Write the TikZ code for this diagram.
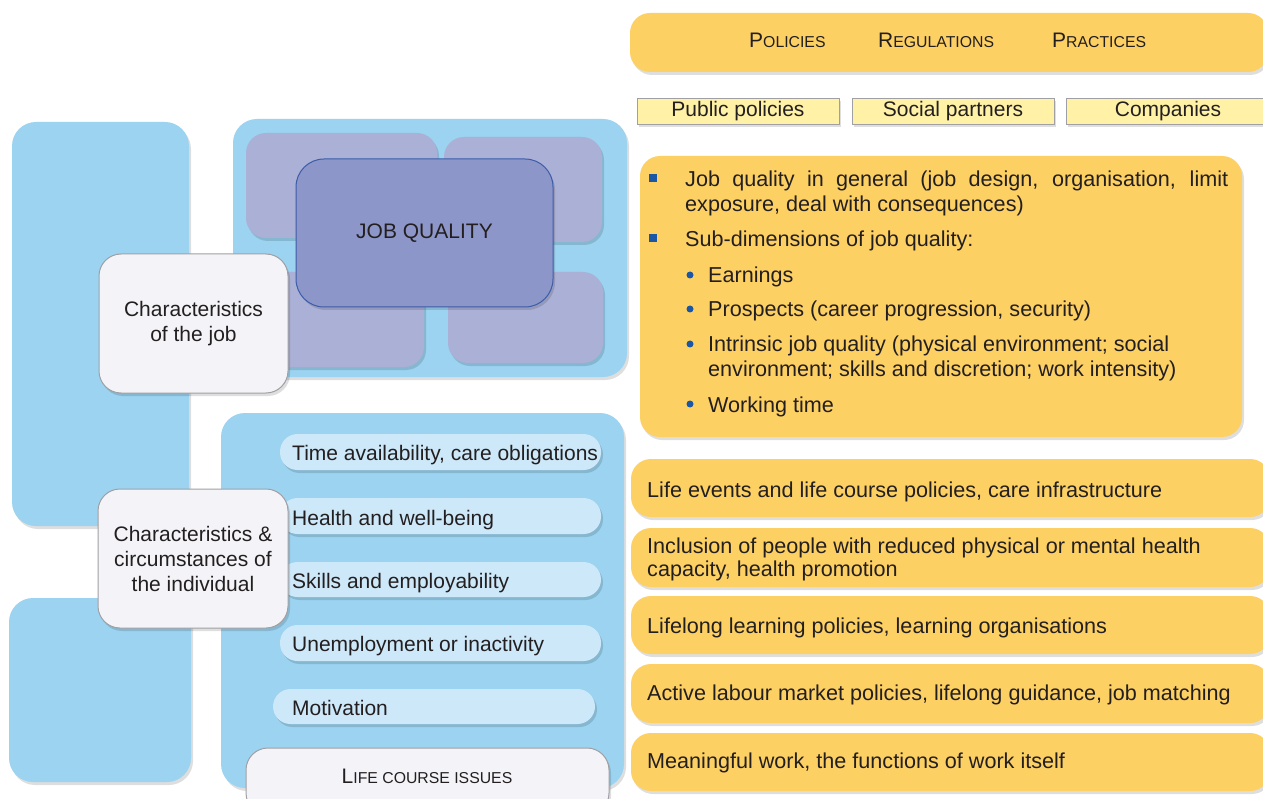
\documentclass[tikz,border=0pt]{standalone}
\usepackage{fontspec}
\setmainfont{Liberation Sans}
\usetikzlibrary{shadows}
\definecolor{panelblue}{HTML}{9BD3F0}
\definecolor{lav}{HTML}{AAB0D6}
\definecolor{jqfill}{HTML}{8D96C8}
\definecolor{jqline}{HTML}{3C5DA9}
\definecolor{whitebox}{HTML}{F4F4F8}
\definecolor{greyline}{HTML}{A0A0A4}
\definecolor{pillblue}{HTML}{CDE8F8}
\definecolor{orangebox}{HTML}{FDD063}
\definecolor{yellowbox}{HTML}{FFF2A6}
\definecolor{bulletblue}{HTML}{1C57A5}
\definecolor{txt}{HTML}{231F20}
\newcommand\fsc[2]{#1{\fontsize{15.8}{16}\selectfont #2}}
% style, x1, y1, x2, y2, name, text
\newcommand\rbox[7]{\node[#1, minimum width={#4-#2}, minimum height={#5-#3}] (#6) at ({(#2+#4)/2},{(#3+#5)/2}) {#7};}
\tikzset{
  sh/.style={drop shadow={shadow xshift=2pt, shadow yshift=-3pt, opacity=0.13, fill=black}},
  panel/.style={fill=panelblue, rounded corners=24pt, sh},
  lavbox/.style={fill=lav, rounded corners=20pt, sh},
  jqbox/.style={fill=jqfill, draw=jqline, line width=1pt, rounded corners=28pt, sh},
  whitebx/.style={fill=whitebox, draw=greyline, line width=1pt, rounded corners=22pt, sh, align=center},
  pill/.style={fill=pillblue, rounded corners=17.5pt, sh},
  orangebx/.style={fill=orangebox, rounded corners=20pt, sh},
  yellowbx/.style={fill=yellowbox, draw=greyline, line width=0.8pt, sh},
  lbl/.style={anchor=base west, inner sep=0pt},
  clbl/.style={anchor=base, inner sep=0pt},
  rfont/.style={font=\fontsize{21.6}{25}\selectfont},
  sqbullet/.style={fill=bulletblue, minimum size=8.5pt, inner sep=0pt},
  dotbullet/.style={circle, fill=bulletblue, minimum size=7pt, inner sep=0pt},
}
\begin{document}
\begin{tikzpicture}[x=1pt, y=-1pt, font=\fontsize{21}{25}\selectfont, text=txt, inner sep=0pt]
\useasboundingbox[fill=white] (0,0) rectangle (1263,799);
% left panels
\rbox{panel}{12}{122}{189}{526}{pa}{}
\rbox{panel}{9}{598}{191}{782}{pb}{}
\rbox{panel}{233}{119}{627}{377}{pc}{}
\rbox{panel}{221}{413}{624}{788}{pd}{}
% lavender boxes
\rbox{lavbox}{246}{133}{437}{238}{l1}{}
\rbox{lavbox}{444}{137}{602}{242}{l2}{}
\rbox{lavbox}{250}{272}{424}{367}{l3}{}
\rbox{lavbox}{448}{272}{603}{363}{l4}{}
\rbox{jqbox}{296}{159}{553}{307}{jq}{JOB QUALITY}
\rbox{whitebx}{99}{254}{288}{393}{cj}{Characteristics\\of the job}
% pills
\rbox{pill}{280}{434}{601}{470}{p1}{}
\rbox{pill}{280}{498}{601}{534}{p2}{}
\rbox{pill}{280}{562}{601}{597}{p3}{}
\rbox{pill}{280}{625}{601}{661}{p4}{}
\rbox{pill}{273}{689}{595}{724}{p5}{}
\node[lbl] (t1) at (292,460) {Time availability, care obligations};
\node[lbl] (t2) at (292,525) {Health and well-being};
\node[lbl] (t3) at (292,588) {Skills and employability};
\node[lbl] (t4) at (292,651) {Unemployment or inactivity};
\node[lbl] (t5) at (292,715) {Motivation};
\rbox{whitebx}{98}{489}{288}{628}{ci}{Characteristics \&\\circumstances of\\the individual}
\rbox{whitebx}{246}{748}{609}{815}{lc}{}
\node[clbl] (lct) at (427,783) {\fsc{L}{IFE COURSE ISSUES}};
% right side
\rbox{orangebx}{630}{13}{1268}{72}{top}{}
\node[lbl] (pol) at (749,48) {\fsc{P}{OLICIES}};
\node[lbl] (reg) at (878,48) {\fsc{R}{EGULATIONS}};
\node[lbl] (pra) at (1052,48) {\fsc{P}{RACTICES}};
\rbox{yellowbx}{637}{98}{839}{124}{y1}{Public policies}
\rbox{yellowbx}{852}{98}{1054}{124}{y2}{Social partners}
\rbox{yellowbx}{1066}{98}{1270}{124}{y3}{Companies}
\rbox{orangebx}{640}{156}{1242}{437}{big}{}
\node[sqbullet] (b1) at (653,178) {};
\node[sqbullet] (b2) at (653,238) {};
\begin{scope}[rfont]
\node[lbl] (j1) at (685,187) {\makebox[543pt][s]{Job quality in general (job design, organisation, limit}};
\node[lbl] (j2) at (685,212) {exposure, deal with consequences)};
\node[lbl] (j3) at (685,247) {Sub-dimensions of job quality:};
\node[lbl] (s1) at (708,283) {Earnings};
\node[lbl] (s2) at (708,317) {Prospects (career progression, security)};
\node[lbl] (s3) at (708,352) {Intrinsic job quality (physical environment; social};
\node[lbl] (s4) at (708,377) {environment; skills and discretion; work intensity)};
\node[lbl] (s5) at (708,412) {Working time};
\end{scope}
\node[dotbullet] (d1) at (690,275) {};
\node[dotbullet] (d2) at (690,309) {};
\node[dotbullet] (d3) at (690,344) {};
\node[dotbullet] (d4) at (690,404) {};
\rbox{orangebx}{631}{459}{1270}{517}{r1}{}
\rbox{orangebx}{631}{528}{1270}{587}{r2}{}
\rbox{orangebx}{631}{596}{1270}{654}{r3}{}
\rbox{orangebx}{631}{664}{1270}{723}{r4}{}
\rbox{orangebx}{631}{733}{1270}{791}{r5}{}
\begin{scope}[rfont]
\node[lbl] (rt1) at (647,497) {Life events and life course policies, care infrastructure};
\node[lbl] (rt2) at (647,553) {Inclusion of people with reduced physical or mental health};
\node[lbl] (rt2b) at (647,576) {capacity, health promotion};
\node[lbl] (rt3) at (647,633) {Lifelong learning policies, learning organisations};
\node[lbl] (rt4) at (647,700) {Active labour market policies, lifelong guidance, job matching};
\node[lbl] (rt5) at (647,768) {Meaningful work, the functions of work itself};
\end{scope}
\end{tikzpicture}
\end{document}
